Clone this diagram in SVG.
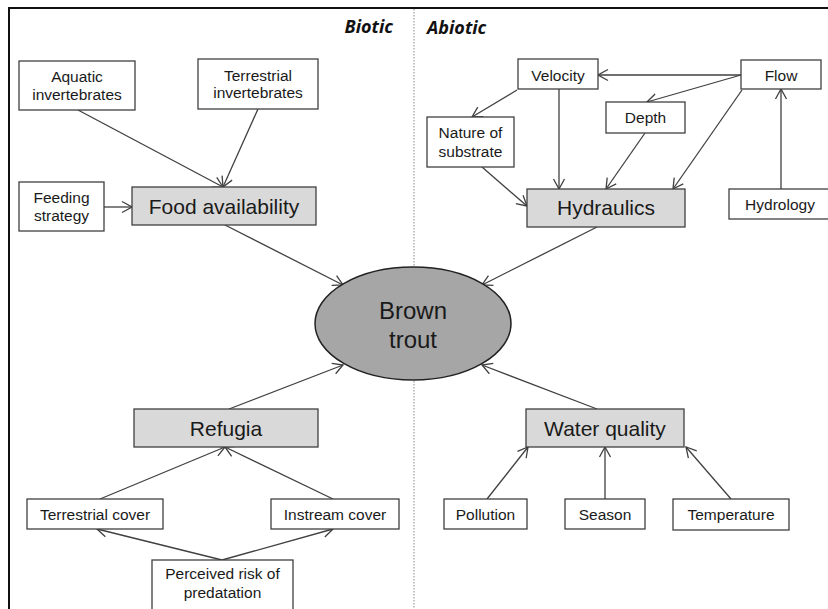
<svg xmlns="http://www.w3.org/2000/svg" width="828" height="609" viewBox="0 0 828 609">
<defs>
<style>
.box{fill:#fff;stroke:#404040;stroke-width:1.3}
.main{fill:#d9d9d9;stroke:#404040;stroke-width:1.3}
.t{font-family:"Liberation Sans",Arial,sans-serif;font-size:15.5px;fill:#1a1a1a;text-anchor:middle}
.tl{font-family:"Liberation Sans",Arial,sans-serif;font-size:21px;fill:#1a1a1a;text-anchor:middle}
.hdr{font-family:"Open Sans","Liberation Sans",sans-serif;font-size:18px;font-weight:bold;font-style:italic;fill:#111}
.c path{fill:none;stroke:#404040;stroke-width:1.3;marker-end:url(#arr)}
</style>
<marker id="arr" viewBox="-11 -7 12 14" markerWidth="12" markerHeight="14" refX="0" refY="0" orient="auto" markerUnits="userSpaceOnUse">
<path d="M-10,-5.5 L0,0 L-10,5.5" fill="none" stroke="#404040" stroke-width="1.3"/>
</marker>
</defs>
<rect width="828" height="609" fill="#fff"/>
<g id="frame">
<path d="M9,609 L9,8 L828,8" fill="none" stroke="#111" stroke-width="2"/>
<line x1="414" y1="9" x2="414" y2="609" stroke="#8a8a8a" stroke-width="1" stroke-dasharray="1.5,1.5"/>
</g>
<text class="hdr" x="393" y="33" text-anchor="end">Biotic</text>
<text class="hdr" x="427" y="34">Abiotic</text>

<g class="c" id="connectors">
<path d="M78,110 L223,187"/>
<path d="M258,109 L223,187"/>
<path d="M104,207 L132,207"/>
<path d="M225,225 L343,285"/>
<path d="M741,75 L598,75"/>
<path d="M741,75 L647,102"/>
<path d="M742,90 L673,189"/>
<path d="M517,90 L472,117"/>
<path d="M559,89 L559,189"/>
<path d="M645,133 L606,189"/>
<path d="M482,167 L527,206"/>
<path d="M781,189 L781,89"/>
<path d="M597,227 L482,285"/>
<path d="M229,409 L343,365"/>
<path d="M100,499 L225,447"/>
<path d="M333,499 L225,447"/>
<path d="M222,560 L97,529"/>
<path d="M222,560 L333,529"/>
<path d="M597,409 L482,365"/>
<path d="M487,499 L528,447"/>
<path d="M605,499 L605,447"/>
<path d="M731,499 L686,447"/>
</g>

<g id="brown-trout">
<ellipse cx="413" cy="323.5" rx="98" ry="56.5" fill="#a6a6a6" stroke="#222" stroke-width="1.5"/>
<text class="tl" x="413" y="319" style="font-size:24px">Brown</text>
<text class="tl" x="413" y="348" style="font-size:24px">trout</text>
</g>

<g id="aquatic">
<rect class="box" x="19" y="61" width="116" height="49"/>
<text class="t" x="77" y="82">Aquatic</text>
<text class="t" x="77" y="100">invertebrates</text>
</g>
<g id="terrestrial-inv">
<rect class="box" x="198" y="59" width="120" height="50"/>
<text class="t" x="258" y="81">Terrestrial</text>
<text class="t" x="258" y="98">invertebrates</text>
</g>
<g id="feeding">
<rect class="box" x="19" y="182" width="85" height="49"/>
<text class="t" x="61.5" y="203">Feeding</text>
<text class="t" x="61.5" y="221">strategy</text>
</g>
<g id="food">
<rect class="main" x="132" y="187" width="184" height="38"/>
<text class="tl" x="224" y="213.5">Food availability</text>
</g>

<g id="velocity">
<rect class="box" x="518" y="59" width="80" height="30"/>
<text class="t" x="558" y="81">Velocity</text>
</g>
<g id="flow">
<rect class="box" x="741" y="60" width="80" height="29"/>
<text class="t" x="781" y="81">Flow</text>
</g>
<g id="depth">
<rect class="box" x="606" y="102" width="79" height="31"/>
<text class="t" x="645.5" y="123">Depth</text>
</g>
<g id="substrate">
<rect class="box" x="427" y="117" width="87" height="50"/>
<text class="t" x="470.5" y="138">Nature of</text>
<text class="t" x="470.5" y="157">substrate</text>
</g>
<g id="hydraulics">
<rect class="main" x="527" y="189" width="158" height="38"/>
<text class="tl" x="606" y="215">Hydraulics</text>
</g>
<g id="hydrology">
<rect class="box" x="729" y="189" width="110" height="30"/>
<text class="t" x="780" y="209.5">Hydrology</text>
</g>

<g id="refugia">
<rect class="main" x="134" y="409" width="184" height="38"/>
<text class="tl" x="226" y="435.5">Refugia</text>
</g>
<g id="terrestrial-cover">
<rect class="box" x="27" y="499" width="136" height="30"/>
<text class="t" x="95" y="519.5">Terrestrial cover</text>
</g>
<g id="instream-cover">
<rect class="box" x="271" y="499" width="128" height="30"/>
<text class="t" x="335" y="519.5">Instream cover</text>
</g>
<g id="predation">
<rect class="box" x="152" y="560" width="141" height="55"/>
<text class="t" x="222.5" y="579">Perceived risk of</text>
<text class="t" x="222.5" y="598">predatation</text>
</g>

<g id="water-quality">
<rect class="main" x="526" y="409" width="158" height="38"/>
<text class="tl" x="605" y="435.5">Water quality</text>
</g>
<g id="pollution">
<rect class="box" x="444" y="499" width="83" height="30"/>
<text class="t" x="485.5" y="519.5">Pollution</text>
</g>
<g id="season">
<rect class="box" x="565" y="499" width="80" height="30"/>
<text class="t" x="605" y="519.5">Season</text>
</g>
<g id="temperature">
<rect class="box" x="673" y="499" width="116" height="31"/>
<text class="t" x="731" y="519.5">Temperature</text>
</g>
</svg>
